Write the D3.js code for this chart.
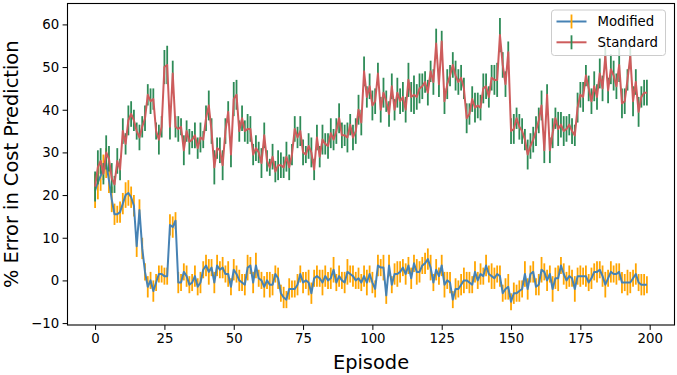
<!DOCTYPE html>
<html><head><meta charset="utf-8">
<script src="https://cdn.jsdelivr.net/npm/d3@7"></script>
<style>body{margin:0;background:#fff}svg{display:block;font-family:"DejaVu Sans",sans-serif}</style>
</head><body><svg id="c" width="677" height="375"></svg>
<script>
const seriesNames = ["Modified", "Standard"];
const xTicks = [0, 25, 50, 75, 100, 125, 150, 175, 200];
const yTicks = [-10, 0, 10, 20, 30, 40, 50, 60];
const modified = [
21,23,24.5,26.5,27.5,23.5,19,15.5,15.5,16,18,20,20.5,19.5,17.5,8,16.5,7.5,2,-1.5,
0,-2.5,-0.5,1.5,1.5,1,1,13,12.5,14,-0.5,-0.5,2,1,-1,-0.5,1,-1.5,-0.5,2.5,
3.5,2,3,-0.5,3.5,2.5,3,1.5,1.5,-1.5,2.5,1.5,0,-0.5,-1,3,3.5,-0.5,3.5,0.5,
0,-1.5,0,-1,-1,1.5,0.5,-3,-4,-4.5,-2,-2,-2,-1,1.5,-0.5,0,-0.5,-3,0.5,
1,0.5,-0.5,1,0,0.5,2.5,-0.5,1,0,-0.5,2,1.5,1,0,0.5,-0.5,1,-0.5,1.5,
-0.5,-2,3.5,3,3,-3.5,3.5,-1,1.5,1.5,2,3,1.5,3.5,0.5,4,2,2,3.5,4,
5,3,-0.5,2.5,1,3.5,-1,0,-0.5,-4.5,-2,-2,-1,0,0,-0.5,-1,2,0,1.5,
1,3.5,1.5,1,0.5,1.5,1,-3,-2,-1.5,-5,-3,-3,-2.5,-2,1.5,-2,1.5,2,-1.5,
-1,2.5,2,0,1.5,-2,0.5,0.5,3.5,1.5,0,1,0.5,-2,1,1,1,1,-0.5,0.5,
2,2,2.5,1,-1,0.5,2,1.5,1.5,2,-0.5,-0.5,-0.5,-0.5,0.5,1.5,-0.5,-1,-1,-1];
const modifiedErr = [
4,4,3.5,3,3.5,3,3,2.5,2,2.5,2.5,3,3,2.5,2.5,2.5,2.5,2.5,2,2.5,
2,2.5,2,2,2,2,2,2.5,2.5,2,2.5,2,2,2.5,2,2,2.5,2,2.5,2,
2.5,3,2,2.5,2.5,2,2.5,2,3,2,2.5,2,2.5,2,2.5,3,2,2.5,3,2,
2,2.5,2,3,2.5,2,2.5,2,2.5,2,2.5,2,2,2.5,2,2.5,2,3,2.5,2,
2.5,2,3,2.5,2,2.5,3,2,2.5,2,2.5,3,2,2.5,2,2.5,2,2.5,3,2,
2.5,2,2.5,2,3,2,2.5,2,2.5,3,2.5,2,2.5,2,2.5,2,3,2.5,2,2.5,
2.5,3,2,2.5,2,2.5,3,2,2.5,2,2.5,2,2.5,3,2,2.5,2,2.5,2,2.5,
2,2.5,2,3,2.5,2,2.5,2,2.5,3,2,2.5,2,2.5,2,3,2.5,2,2.5,2,
2.5,3,2,2.5,2,3,2.5,3,2,2.5,2,2.5,2,3,2,2.5,2,2.5,2,2.5,
2,2.5,2,2.5,3,2,2.5,2,2.5,2,2.5,2,3,2.5,2,2.5,2,2.5,2.5,2];
const standard = [
22,26.5,28,25,30,28.5,24,22.5,28,26,35,32,37.5,39,37.5,35,33.5,36,38,43.5,
42,42.5,35,33,36,50,50.5,36,48.5,36,35.5,36,30.5,35,32.5,33,34,31,33.5,33,
38,41,35,26.5,31,30.5,27,35,39.5,29.5,42.5,43.5,35,38,35,35.5,35.5,29.5,31,30,
27.5,34,28,26.5,29,25.5,27,27,26.5,29,26.5,29.5,35.5,33.5,35,30,29.5,31.5,30,26,
33.5,29,33,32,31.5,34.5,33,35,38,34,34,33.5,36.5,33.5,35,40,37,49,43,45.5,
41,42,48.5,40,44,42,39,45.5,40,44,42,43,40,47,43,43.5,43,45,45.5,46.5,
44,49,46.5,55.5,46,56,42,46,48,50.5,48,46.5,47.5,45,38,39,42.5,40.5,41,40.5,
45,45.5,43,47.5,47,47,57.5,50.5,46,53.5,35,35.5,38,36,35,33,29.5,31.5,33,35,
37.5,41,30.5,43.5,30.5,34.5,38,35.5,36.5,35,35.5,36.5,35,34,40.5,43.5,43,48,45,42,
45.5,43,48.5,45,52.5,44.5,49.5,48,45.5,50.5,41.5,42,47,52.5,42,46.5,39.5,43,44,44];
const standardErr = [
3.5,4,3,2.5,4,3,3.5,2,3,2.5,3,2.5,3.5,3,2.5,2,3,2.5,3,2.5,
3,2.5,2,3.5,2.5,4,4.5,3,3,2.5,3,2,3.5,2.5,3,2,3,2.5,3.5,2,
3,3.5,3,4,2.5,3,3.5,3,2.5,3,4,3.5,2.5,3,2.5,3.5,3,2.5,3,2.5,
3.5,3,2.5,2,3,2.5,3.5,3,2.5,3.5,3,2.5,3,2.5,3.5,3,2,3,3.5,2.5,
3,2.5,3.5,2.5,3,3.5,2.5,3,3.5,3,2.5,3.5,2.5,3,3,3.5,3,3.5,2.5,3,
3.5,3,2.5,3,3.5,2.5,3,3,2.5,3.5,3,3.5,3,4,3.5,4.5,3,3.5,3,2.5,
3,2.5,3,3.5,3,2.5,3,3.5,2.5,3,3.5,3,3,2.5,3.5,2.5,3,3.5,3,3,
3.5,3,2.5,3,3.5,4,4,3,3,2.5,3,3.5,2.5,3,3,2.5,3.5,3,3,3.5,
3,3.5,3,2.5,3,3.5,2.5,4,3,3.5,3,2.5,3,2.5,3.5,3,3.5,2.5,3,3,
3.5,3,3.5,3,2.5,3,3.5,3.5,3,4,3.5,3,2.5,3,3.5,3,3.5,2.5,3,3];

const svg = d3.select("#c");
const L = 67.5, R = 674.5, T = 3.5, B = 325;
const x = d3.scaleLinear().domain([-9.95, 208.95]).range([L, R]);
const y = d3.scaleLinear().domain([-10.45, 64.9]).range([B, T]);

const series = [
  {name: seriesNames[0], vals: modified, err: modifiedErr, line: "#4682b4", bar: "#ffa500"},
  {name: seriesNames[1], vals: standard, err: standardErr, line: "#cd5c5c", bar: "#2e8b57"}
];

const plot = svg.append("g");
series.forEach(s => {
  const pts = s.vals.map((v, i) => ({i, v, e: s.err[i]}));
  plot.append("g").selectAll("line").data(pts).join("line")
    .attr("x1", d => x(d.i)).attr("x2", d => x(d.i))
    .attr("y1", d => y(d.v - d.e)).attr("y2", d => y(d.v + d.e))
    .attr("stroke", s.bar).attr("stroke-width", 1.8);
  plot.append("path").datum(pts)
    .attr("d", d3.line().x(d => x(d.i)).y(d => y(d.v)))
    .attr("fill", "none").attr("stroke", s.line).attr("stroke-width", 2)
    .attr("stroke-linejoin", "round");
});

const fs = "13.3px";
const xa = svg.append("g").attr("transform", `translate(0,${B})`)
  .call(d3.axisBottom(x).tickValues(xTicks).tickSize(4.9).tickPadding(3.5).tickSizeOuter(0));
const ya = svg.append("g").attr("transform", `translate(${L},0)`)
  .call(d3.axisLeft(y).tickValues(yTicks).tickSize(4.9).tickPadding(3.5).tickSizeOuter(0)
    .tickFormat(d => d < 0 ? "\u2212" + Math.abs(d) : d));
[xa, ya].forEach(a => {
  a.select(".domain").remove();
  a.selectAll("text").attr("font-size", fs).attr("font-family", "DejaVu Sans").attr("fill", "#000");
  a.selectAll("line").attr("stroke", "#000").attr("stroke-width", 1);
});
svg.append("rect").attr("x", L).attr("y", T).attr("width", R - L).attr("height", B - T)
  .attr("fill", "none").attr("stroke", "#000").attr("stroke-width", 1.1);

svg.append("text").attr("x", (L + R) / 2).attr("y", 369).attr("text-anchor", "middle")
  .attr("font-size", "19.4px").text("Episode");
svg.append("text").attr("transform", `translate(18,${(T + B) / 2}) rotate(-90)`)
  .attr("text-anchor", "middle").attr("font-size", "19.4px").text("% Error in Cost Prediction");

const lg = svg.append("g");
lg.append("rect").attr("x", 551.5).attr("y", 10).attr("width", 114).attr("height", 45.5)
  .attr("rx", 3).attr("fill", "#fff").attr("fill-opacity", 0.8).attr("stroke", "#cccccc");
series.forEach((s, k) => {
  const cy = 21.5 + k * 20.8;
  lg.append("line").attr("x1", 556.5).attr("x2", 586.5).attr("y1", cy).attr("y2", cy)
    .attr("stroke", s.line).attr("stroke-width", 2);
  lg.append("line").attr("x1", 571.5).attr("x2", 571.5).attr("y1", cy - 7).attr("y2", cy + 7)
    .attr("stroke", s.bar).attr("stroke-width", 1.8);
  lg.append("text").attr("x", 597.5).attr("y", cy + 4.7).attr("font-size", fs).text(s.name);
});
</script></body></html>
